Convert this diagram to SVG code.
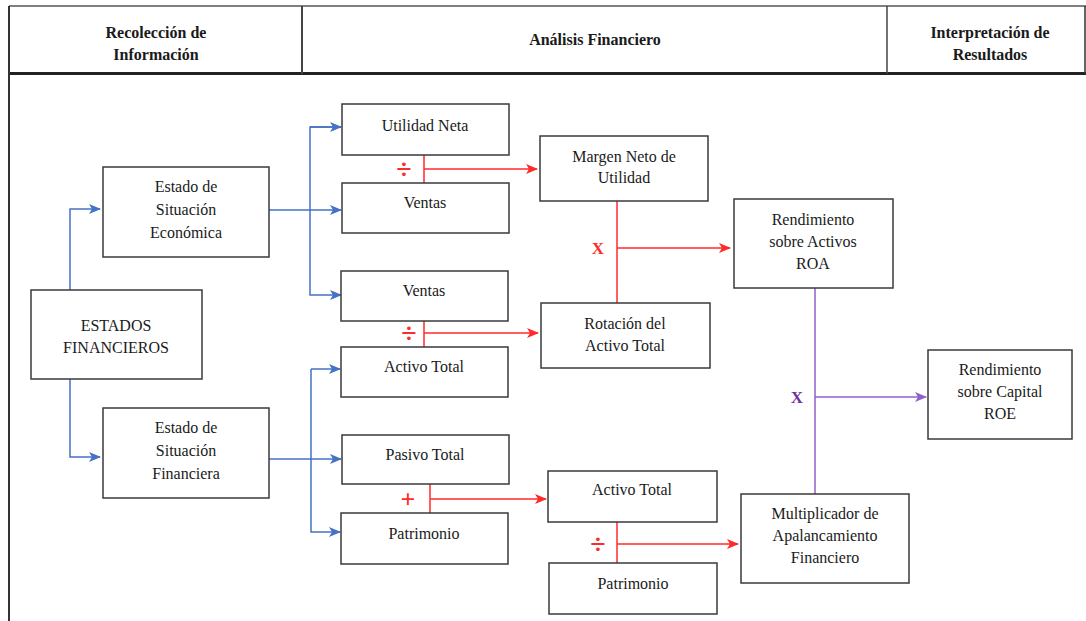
<svg xmlns="http://www.w3.org/2000/svg" width="1086" height="621" viewBox="0 0 1086 621" font-family="Liberation Serif, DejaVu Serif, serif">
<style>
.bx{fill:#fff;stroke:#3a3a3a;stroke-width:1.5}
.t{font-size:16px;fill:#1a1a1a;text-anchor:middle}
.h{font-size:16px;font-weight:bold;fill:#1a1a1a;text-anchor:middle}
.bl{fill:none;stroke:#4472C4;stroke-width:1.5}
.rd{fill:none;stroke:#FF2A2A;stroke-width:1.5}
.pu{fill:none;stroke:#9060C8;stroke-width:1.5}
.op{font-weight:bold;text-anchor:middle}
</style>
<defs>
<marker id="ab" viewBox="0 0 12 10" refX="11" refY="5" markerWidth="12" markerHeight="10" markerUnits="userSpaceOnUse" orient="auto"><path d="M0,0 L12,5 L0,10 L3,5 z" fill="#4472C4"/></marker>
<marker id="ar" viewBox="0 0 12 10" refX="11" refY="5" markerWidth="12" markerHeight="10" markerUnits="userSpaceOnUse" orient="auto"><path d="M0,0 L12,5 L0,10 L3,5 z" fill="#FF2A2A"/></marker>
<marker id="ap" viewBox="0 0 12 10" refX="11" refY="5" markerWidth="12" markerHeight="10" markerUnits="userSpaceOnUse" orient="auto"><path d="M0,0 L12,5 L0,10 L3,5 z" fill="#9060C8"/></marker>
</defs>
<rect width="1086" height="621" fill="#fff"/>
<g id="header">
<line x1="9" y1="6" x2="1086" y2="6" stroke="#555" stroke-width="1.5"/>
<line x1="9" y1="73.5" x2="1086" y2="73.5" stroke="#222" stroke-width="3"/>
<line x1="9" y1="6" x2="9" y2="621" stroke="#333" stroke-width="2"/>
<line x1="1085" y1="6" x2="1085" y2="74" stroke="#333" stroke-width="1.5"/>
<line x1="302" y1="6" x2="302" y2="74" stroke="#444" stroke-width="2"/>
<line x1="887" y1="6" x2="887" y2="74" stroke="#444" stroke-width="1.5"/>
<text class="h" x="156" y="38" font-family="Liberation Serif, serif">Recolección de</text>
<text class="h" x="156" y="60" font-family="Liberation Serif, serif">Información</text>
<text class="h" x="595" y="45" font-family="Liberation Serif, serif">Análisis Financiero</text>
<text class="h" x="990" y="38" font-family="Liberation Serif, serif">Interpretación de</text>
<text class="h" x="990" y="60" font-family="Liberation Serif, serif">Resultados</text>
</g>
<g id="connectors">
<path class="bl" d="M70,290 V209 H100" marker-end="url(#ab)"/>
<path class="bl" d="M70,379 V457 H100" marker-end="url(#ab)"/>
<path class="bl" d="M269,210 H341" marker-end="url(#ab)"/>
<path class="bl" d="M341,127 H310 V295 H341" marker-end="url(#ab)"/>
<path class="bl" d="M310,127 H341" marker-end="url(#ab)"/>
<path class="bl" d="M269,459 H341" marker-end="url(#ab)"/>
<path class="bl" d="M311,369 V532 H340" marker-end="url(#ab)"/>
<path class="bl" d="M311,369 H340" marker-end="url(#ab)"/>
<path class="rd" d="M424,155 V183"/>
<path class="rd" d="M424,169 H537" marker-end="url(#ar)"/>
<path class="rd" d="M424,321 V347"/>
<path class="rd" d="M424,333 H538" marker-end="url(#ar)"/>
<path class="rd" d="M617,201 V303"/>
<path class="rd" d="M617,248 H730" marker-end="url(#ar)"/>
<path class="rd" d="M430,484 V513"/>
<path class="rd" d="M430,499 H546" marker-end="url(#ar)"/>
<path class="rd" d="M617,522 V563"/>
<path class="rd" d="M617,544 H738" marker-end="url(#ar)"/>
<path class="pu" d="M815,288 V494"/>
<path class="pu" d="M815,397 H926" marker-end="url(#ap)"/>
<text class="op" x="404" y="178" font-size="28" fill="#FF2A2A">÷</text>
<text class="op" x="409" y="342" font-size="28" fill="#FF2A2A">÷</text>
<text class="op" x="408" y="508" font-size="26" fill="#FF2A2A" font-weight="normal">+</text>
<text class="op" x="598" y="553" font-size="28" fill="#FF2A2A">÷</text>
<text class="op" x="598" y="254" font-size="17" fill="#FF2A2A">X</text>
<text class="op" x="797" y="403" font-size="17" fill="#7030A0">X</text>
</g>
<g id="n-ef"><rect class="bx" x="31" y="290" width="171" height="89"/><text class="t" x="116" y="331">ESTADOS</text><text class="t" x="116" y="353">FINANCIEROS</text></g>
<g id="n-ese"><rect class="bx" x="103" y="167" width="166" height="90"/><text class="t" x="186" y="192">Estado de</text><text class="t" x="186" y="215">Situación</text><text class="t" x="186" y="238">Económica</text></g>
<g id="n-esf"><rect class="bx" x="103" y="408" width="166" height="90"/><text class="t" x="186" y="433">Estado de</text><text class="t" x="186" y="456">Situación</text><text class="t" x="186" y="479">Financiera</text></g>
<g id="n-un"><rect class="bx" x="342" y="104" width="167" height="51"/><text class="t" x="425" y="131">Utilidad Neta</text></g>
<g id="n-v1"><rect class="bx" x="342" y="183" width="167" height="50"/><text class="t" x="425" y="208">Ventas</text></g>
<g id="n-v2"><rect class="bx" x="341" y="271" width="167" height="50"/><text class="t" x="424" y="296">Ventas</text></g>
<g id="n-at1"><rect class="bx" x="341" y="347" width="167" height="50"/><text class="t" x="424" y="372">Activo Total</text></g>
<g id="n-pt"><rect class="bx" x="342" y="435" width="167" height="49"/><text class="t" x="425" y="460">Pasivo Total</text></g>
<g id="n-pa1"><rect class="bx" x="341" y="513" width="167" height="51"/><text class="t" x="424" y="539">Patrimonio</text></g>
<g id="n-mnu"><rect class="bx" x="540" y="136" width="168" height="65"/><text class="t" x="624" y="162">Margen Neto de</text><text class="t" x="624" y="183">Utilidad</text></g>
<g id="n-rat"><rect class="bx" x="541" y="303" width="169" height="65"/><text class="t" x="625" y="329">Rotación del</text><text class="t" x="625" y="351">Activo Total</text></g>
<g id="n-at2"><rect class="bx" x="548" y="471" width="169" height="51"/><text class="t" x="632" y="495">Activo Total</text></g>
<g id="n-pa2"><rect class="bx" x="549" y="563" width="168" height="51"/><text class="t" x="633" y="589">Patrimonio</text></g>
<g id="n-roa"><rect class="bx" x="734" y="199" width="159" height="89"/><text class="t" x="813" y="225">Rendimiento</text><text class="t" x="813" y="247">sobre Activos</text><text class="t" x="813" y="269">ROA</text></g>
<g id="n-maf"><rect class="bx" x="741" y="494" width="168" height="89"/><text class="t" x="825" y="519">Multiplicador de</text><text class="t" x="825" y="541">Apalancamiento</text><text class="t" x="825" y="563">Financiero</text></g>
<g id="n-roe"><rect class="bx" x="928" y="350" width="144" height="89"/><text class="t" x="1000" y="375">Rendimiento</text><text class="t" x="1000" y="397">sobre Capital</text><text class="t" x="1000" y="419">ROE</text></g>
</svg>
